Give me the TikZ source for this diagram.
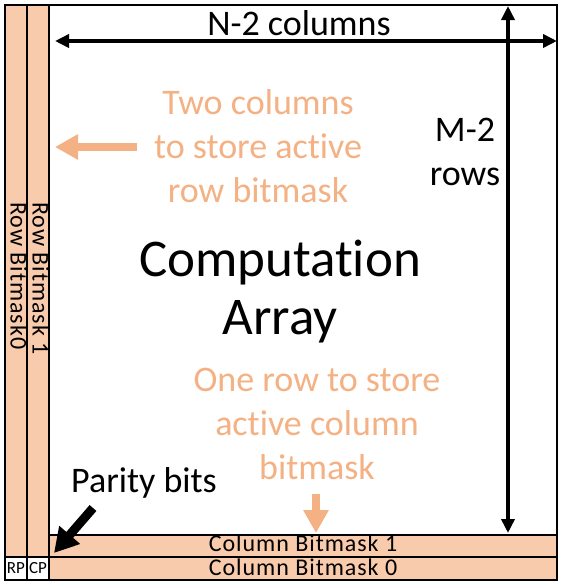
\documentclass[tikz,border=0pt]{standalone}
\usepackage{fontspec}
\setmainfont{Carlito}[Ligatures=NoCommon]
\usetikzlibrary{arrows.meta}
\definecolor{lightor}{HTML}{F8CBAD}
\definecolor{darkor}{HTML}{F4B183}
\tikzset{
  cell/.style={draw=black, line width=1.5pt, fill=lightor},
  blkboth/.style={line width=4pt, {Triangle[length=14pt,width=13pt]}-{Triangle[length=14pt,width=13pt]}},
  orarrow/.style={draw=darkor, line width=8pt, -{Triangle[length=23pt,width=24pt]}},
  bigtxt/.style={font=\fontsize{36}{44}\selectfont, align=center, inner sep=0pt},
  ortxt/.style={bigtxt, text=darkor},
  bmtxt/.style={font=\fontsize{24}{26}\selectfont\addfontfeature{LetterSpace=4}, inner sep=0pt, text height=14pt, text depth=3pt},
  smallbox/.style={draw, line width=1.2pt, fill=white, minimum width=22pt, minimum height=23pt, inner sep=0pt, font=\fontsize{17}{17}\selectfont},
}
\begin{document}
\begin{tikzpicture}[x=1pt,y=-1pt]
\useasboundingbox (0,0) rectangle (562,587);
% outer frame
\draw[line width=1.5pt, fill=white] (5,5) rectangle (557,580);
% left columns
\draw[cell] (5,5) rectangle (27,557);
\draw[cell] (27,5) rectangle (49,557);
% bottom rows
\draw[cell] (49,535) rectangle (557,557);
\draw[cell] (49,557) rectangle (557,580);
% RP / CP boxes
\node[smallbox] (rp) at (16,568.5) {RP};
\node[smallbox] (cp) at (38,568.5) {CP};
% column texts
\node[bmtxt, rotate=-90, anchor=west] (rb0) at (16,202) {Row Bitmask0};
\node[bmtxt, rotate=-90, anchor=west] (rb1) at (38,202) {Row Bitmask 1};
\node[bmtxt] (cb1) at (303,546) {Column Bitmask 1};
\node[bmtxt] (cb0) at (303,569.5) {Column Bitmask 0};
% dimension arrows
\coordinate (hL) at (55,41);
\coordinate (hR) at (557,41);
\draw[blkboth] (hL) -- (hR);
\coordinate (vB) at (508,533);
\coordinate (vT) at (508,6);
\draw[blkboth] (vB) -- (vT);
\node[bigtxt] (ncol) at (299,23) {N-2 columns};
\node[bigtxt, text depth=0pt] (mrow) at (465,152) {M-2\\rows};
% main text
\node[font=\fontsize{53}{58}\selectfont, align=center, inner sep=0pt] (comp) at (280,292) {Computation\\Array};
\node[ortxt] (two) at (258,146) {Two columns\\to store active\\row bitmask};
\node[ortxt] (one) at (317,424) {One row to store\\active column\\bitmask};
% orange arrows
\coordinate (oa1) at (137,147);
\coordinate (oa2) at (55,147);
\draw[orarrow] (oa1) -- (oa2);
\coordinate (ob1) at (316,494);
\coordinate (ob2) at (316,533);
\draw[orarrow] (ob1) -- (ob2);
% parity
\node[bigtxt] (par) at (144,483) {Parity bits};
\coordinate (pa1) at (93,508);
\coordinate (pa2) at (54,553);
\draw[line width=9pt, -{Triangle[length=24pt,width=26pt]}] (pa1) -- (pa2);
\end{tikzpicture}
\end{document}
